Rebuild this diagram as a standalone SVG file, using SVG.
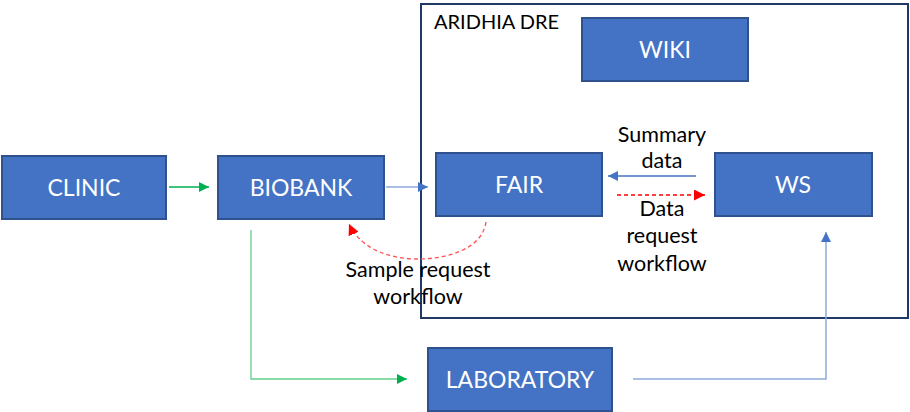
<svg xmlns="http://www.w3.org/2000/svg" width="910" height="412" viewBox="0 0 910 412">
<defs>
<style>
.box{fill:#4472C4;stroke:#2F528F;stroke-width:2}
.bl{font-family:Lato,"Open Sans","Liberation Sans",sans-serif;font-size:23px;fill:#FFFFFF;text-anchor:middle}
.lbl{font-family:Lato,"Open Sans","Liberation Sans",sans-serif;font-size:21.5px;fill:#000000;text-anchor:middle}
.green{fill:none;stroke:#00B050;stroke-width:1.3}
.blue{fill:none;stroke:#4472C4;stroke-width:1.3}
.lblue{fill:none;stroke:#8FAADC;stroke-width:1.5}
.red{fill:none;stroke:#FF0000;stroke-width:1.3;stroke-dasharray:4 3}
</style>
<marker id="ag" viewBox="0 0 10 10" refX="10" refY="5" markerWidth="10" markerHeight="10" markerUnits="userSpaceOnUse" orient="auto"><path d="M0,0 L10,5 L0,10 z" fill="#00B050"/></marker>
<marker id="ab" viewBox="0 0 10 10" refX="10" refY="5" markerWidth="10" markerHeight="10" markerUnits="userSpaceOnUse" orient="auto"><path d="M0,0 L10,5 L0,10 z" fill="#4472C4"/></marker>
<marker id="ar" viewBox="0 0 10 10" refX="10" refY="5" markerWidth="11" markerHeight="11" markerUnits="userSpaceOnUse" orient="auto"><path d="M0,0 L10,5 L0,10 z" fill="#FF0000"/></marker>
</defs>
<rect width="910" height="412" fill="#FFFFFF"/>
<g id="aridhia-dre">
<rect x="421" y="4" width="487" height="314" fill="none" stroke="#203864" stroke-width="2"/>
<text x="434" y="29" style="font-family:Lato,'Open Sans','Liberation Sans',sans-serif;font-size:20px;fill:#000">ARIDHIA DRE</text>
</g>
<g id="connectors">
<line class="green" x1="169" y1="187" x2="209" y2="187" marker-end="url(#ag)"/>
<line class="lblue" x1="386" y1="187" x2="428" y2="187" marker-end="url(#ab)"/>
<polyline class="green" points="251,230 251,379 407,379" marker-end="url(#ag)" style="stroke:#5FD08A"/>
<polyline class="lblue" points="633,379 826,379 826,232" marker-end="url(#ab)"/>
<line class="blue" x1="696" y1="176" x2="608" y2="176" marker-end="url(#ab)"/>
<line class="red" x1="617" y1="195" x2="705" y2="195" marker-end="url(#ar)"/>
<path class="red" d="M486,222 C482,250 445,259 418,259 C388,259 360,248 349,224" marker-end="url(#ar)" style="stroke:#FF5050"/>
<text class="lbl" x="662" y="142">Summary</text>
<text class="lbl" x="662" y="168">data</text>
<text class="lbl" x="662" y="216">Data</text>
<text class="lbl" x="662" y="243">request</text>
<text class="lbl" x="662" y="271">workflow</text>
<text class="lbl" x="418" y="277">Sample request</text>
<text class="lbl" x="418" y="304">workflow</text>
</g>
<g id="clinic"><rect class="box" x="2" y="156" width="164" height="63"/><text class="bl" x="84" y="196">CLINIC</text></g>
<g id="biobank"><rect class="box" x="218" y="156" width="166" height="63"/><text class="bl" x="301" y="196">BIOBANK</text></g>
<g id="fair"><rect class="box" x="436" y="153" width="166" height="63"/><text class="bl" x="519" y="193">FAIR</text></g>
<g id="ws"><rect class="box" x="715" y="153" width="157" height="63"/><text class="bl" x="793" y="193">WS</text></g>
<g id="wiki"><rect class="box" x="582" y="18" width="166" height="63"/><text class="bl" x="665" y="58">WIKI</text></g>
<g id="laboratory"><rect class="box" x="428" y="348" width="184" height="63"/><text class="bl" x="520" y="388">LABORATORY</text></g>
</svg>
